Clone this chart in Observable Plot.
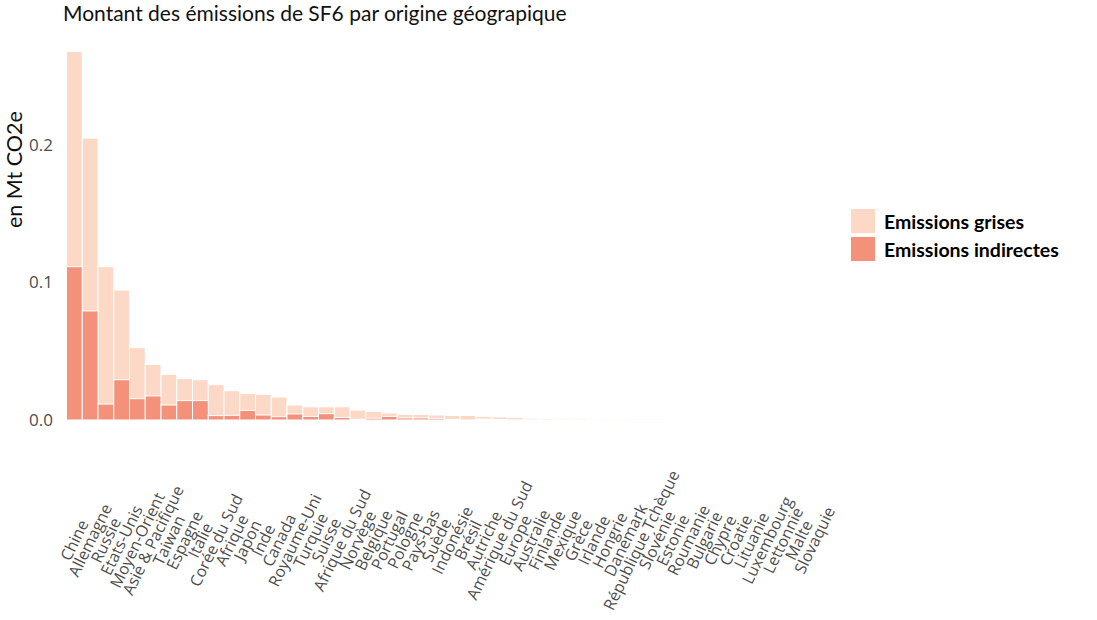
<!DOCTYPE html>
<html>
<head>
<meta charset="utf-8">
<script src="https://cdn.jsdelivr.net/npm/d3@7"></script>
<script src="https://cdn.jsdelivr.net/npm/@observablehq/plot@0.6"></script>
<style>
  body { margin: 0; background: #fff; }
  #wrap { position: relative; width: 1097px; height: 620px; overflow: hidden; }
  #title { position: absolute; left: 63px; top: 0px; font-family: Lato, "Open Sans", sans-serif; font-size: 21px; color: #111; white-space: nowrap; }
  #chart { position: absolute; left: 0; top: 30px; }
  .legend { position: absolute; left: 850px; font-family: Lato, "Open Sans", sans-serif; font-weight: bold; font-size: 19.5px; color: #000; }
  .legend .row { display: flex; align-items: center; height: 28px; }
  .legend .sw { width: 26px; height: 26px; margin-right: 8px; border: 1px solid #fff; box-sizing: border-box; }
</style>
</head>
<body>
<div id="wrap">
  <div id="title">Montant des émissions de SF6 par origine géograpique</div>
  <div id="chart"></div>
  <div class="legend" id="legend" style="top:207px"></div>
</div>
<script>
const categories = ["Chine","Allemagne","Russie","Etats-Unis","Moyen-Orient","Asie & Pacifique","Taiwan","Espagne","Italie","Corée du Sud","Afrique","Japon","Inde","Canada","Royaume-Uni","Turquie","Suisse","Afrique du Sud","Norvège","Belgique","Portugal","Pologne","Pays-bas","Suède","Indonésie","Brésil","Autriche","Amérique du Sud","Europe","Australie","Finlande","Mexique","Grèce","Irlande","Hongrie","Danemark","République Tchèque","Slovénie","Estonie","Roumanie","Bulgarie","Chypre","Croatie","Lituanie","Luxembourg","Lettonnie","Malte","Slovaquie"];

const emissionsGrises = [0.268,0.205,0.1115,0.0945,0.0526,0.0405,0.0332,0.0301,0.0293,0.0257,0.0213,0.0194,0.0187,0.0167,0.0109,0.0096,0.0096,0.0096,0.0072,0.0062,0.0051,0.0041,0.0041,0.0036,0.0033,0.0033,0.0027,0.0022,0.0019,0.0013,0.0011,0.0009,0.0009,0.0006,0.0003,0.0002,0.0001,0.0001,0.00005,0.00005,0.00003,0.00003,0.00002,0.00002,0.00001,0.00001,0.00001,0.00001];

const emissionsIndirectes = [0.1115,0.0793,0.0116,0.0293,0.0155,0.0175,0.0109,0.0141,0.0141,0.0032,0.0034,0.0070,0.0036,0.0024,0.0044,0.0026,0.0046,0.0019,0.0005,0.0013,0.0026,0.0015,0.0015,0.0012,0.0004,0.0000,0.0007,0.0005,0.0001,0.0002,0.0002,0.0001,0.0001,0.0003,0.0001,0.0001,0.00005,0.00005,0.00002,0.00002,0.00001,0.00001,0.00001,0.00001,0,0,0,0];

const seriesNames = ["Emissions grises", "Emissions indirectes"];
const seriesColors = ["#FCD8C7", "#F4917A"];
const yTicks = [0, 0.1, 0.2];
const yLabel = "en Mt CO2e";

const rows = categories.map((c, i) => ({pays: c, grises: emissionsGrises[i], indirectes: emissionsIndirectes[i]}));

const chart = Plot.plot({
  width: 1097,
  height: 590,
  marginLeft: 66.5,
  marginRight: 274.5,
  marginTop: 5,
  marginBottom: 200,
  style: {fontFamily: "'Open Sans', sans-serif", background: "#fff"},
  x: {domain: categories, padding: 0, axis: null},
  y: {domain: [0, 0.28], axis: null},
  marks: [
    Plot.barY(rows, {x: "pays", y: "grises", fill: seriesColors[0], stroke: "#fff", strokeWidth: 1}),
    Plot.barY(rows, {x: "pays", y: "indirectes", fill: seriesColors[1], stroke: "#fff", strokeWidth: 1}),
    Plot.axisY({ticks: yTicks, tickFormat: d3.format(".1f"), tickSize: 0, tickPadding: 14, fontSize: 17, fill: "#4d4d4d", label: null}),
    Plot.text([yLabel], {text: d => d, frameAnchor: "left", dx: -51.5, rotate: -90, fontSize: 21.5, fill: "#111", fontFamily: "Lato, 'Open Sans', sans-serif"}),
    Plot.text(categories, {text: d => d, x: d => d, frameAnchor: "bottom", dy: 120, rotate: -64, textAnchor: "middle", lineAnchor: "middle", fontSize: 16, fill: "#4d4d4d"})
  ]
});
document.getElementById("chart").appendChild(chart);

const legend = document.getElementById("legend");
seriesNames.forEach((name, i) => {
  const row = document.createElement("div");
  row.className = "row";
  const sw = document.createElement("div");
  sw.className = "sw";
  sw.style.background = seriesColors[i];
  const lab = document.createElement("span");
  lab.textContent = name;
  row.appendChild(sw);
  row.appendChild(lab);
  legend.appendChild(row);
});
</script>
</body>
</html>
